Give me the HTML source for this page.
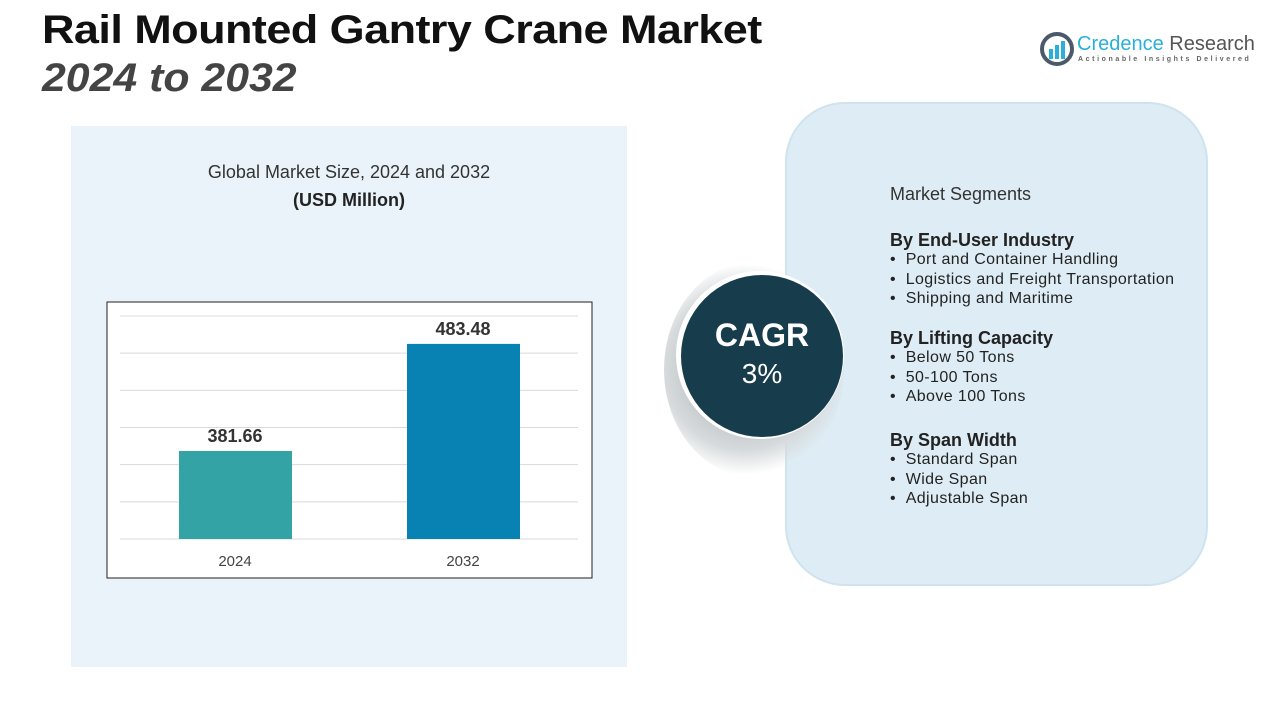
<!DOCTYPE html>
<html><head><meta charset="utf-8"><style>
body{margin:0;width:1280px;height:720px;background:#fff;font-family:"Liberation Sans",sans-serif;position:relative;overflow:hidden}
.abs{position:absolute}
</style></head><body>
<div class="abs" style="left:42px;top:8px;font-size:40px;font-weight:bold;color:#111;letter-spacing:-0.5px;transform:scaleX(1.125);transform-origin:0 0">Rail Mounted Gantry Crane Market</div>
<div class="abs" style="left:42px;top:56px;font-size:40px;font-weight:bold;font-style:italic;color:#444;transform:scaleX(1.07);transform-origin:0 0">2024 to 2032</div>
<div class="abs" style="left:1040px;top:32px;width:215px;height:36px">
 <svg width="34" height="34" style="position:absolute;left:0;top:0"><circle cx="17" cy="17" r="15" fill="none" stroke="#4a5a6a" stroke-width="4"/><rect x="9" y="17" width="4" height="10" fill="#2ab0d8"/><rect x="15" y="13" width="4" height="14" fill="#2ab0d8"/><rect x="21" y="9" width="4" height="18" fill="#2ab0d8"/></svg>
 <div style="position:absolute;left:37px;top:1px;font-size:20px;color:#555"><span style="color:#2ab0d8">Credence</span> Research</div>
 <div style="position:absolute;left:38px;top:24px;font-size:7px;letter-spacing:2.6px;color:#666;font-weight:bold">Actionable Insights Delivered</div>
</div>
<div class="abs" style="left:71px;top:126px;width:556px;height:541px;background:#eaf3f9"></div>
<div class="abs" style="left:71px;top:162px;width:556px;text-align:center;font-size:18px;color:#333">Global Market Size, 2024 and 2032</div>
<div class="abs" style="left:71px;top:190px;width:556px;text-align:center;font-size:18px;font-weight:bold;color:#222">(USD Million)</div>
<svg class="abs" style="left:0;top:0" width="1280" height="720" id="chart">
 <rect x="107" y="302" width="485" height="276" fill="#fff" stroke="#222" stroke-width="1"/>
</svg>
<script>
const categories=["2024","2032"];
const values=[381.66,483.48];
const labels=["381.66","483.48"];
const colors=["#33a3a6","#0881b3"];
const yMin=298,yMax=510;
const svg=document.getElementById('chart');
const NS='http://www.w3.org/2000/svg';
const y0=539,y1=316;
function yScale(v){return y0-(v-yMin)/(yMax-yMin)*(y0-y1);}
for(let i=0;i<7;i++){const l=document.createElementNS(NS,'line');const y=y1+i*(y0-y1)/6;
l.setAttribute('x1',120);l.setAttribute('x2',578);l.setAttribute('y1',y);l.setAttribute('y2',y);l.setAttribute('stroke','#d9d9d9');


svg.appendChild(l);}
const cx=[235,463];
categories.forEach((c,i)=>{
 const r=document.createElementNS(NS,'rect');const t=yScale(values[i]);
 r.setAttribute('x',cx[i]-56);r.setAttribute('width',113);r.setAttribute('y',t);r.setAttribute('height',y0-t);r.setAttribute('fill',colors[i]);
 
 
 svg.appendChild(r);
 const v=document.createElementNS(NS,'text');v.setAttribute('x',cx[i]);v.setAttribute('y',t-9);v.setAttribute('text-anchor','middle');v.setAttribute('font-size','18');v.setAttribute('font-weight','bold');v.setAttribute('fill','#333');v.setAttribute('font-family','Liberation Sans');v.textContent=labels[i];
 
 
 svg.appendChild(v);
 const x=document.createElementNS(NS,'text');x.setAttribute('x',cx[i]);x.setAttribute('y',566);x.setAttribute('text-anchor','middle');x.setAttribute('font-size','15');x.setAttribute('fill','#444');x.setAttribute('font-family','Liberation Sans');x.textContent=c;
 
 
 svg.appendChild(x);
});
</script>
<div class="abs" style="left:785px;top:102px;width:423px;height:484px;border-radius:60px;background:#deedf5;border:2px solid #cfe3ee;box-sizing:border-box"></div>
<div class="abs" style="left:664px;top:262px;width:180px;height:215px;border-radius:50%;background:radial-gradient(circle at 45% 50%,#9aa3a8 0%,#d6dadc 55%,rgba(255,255,255,0) 72%)"></div>
<div class="abs" style="left:676px;top:271px;width:168px;height:168px;border-radius:50%;background:#fff"></div>
<div class="abs" style="left:681px;top:275px;width:162px;height:162px;border-radius:50%;background:#173c4c;color:#fff;text-align:center">
 <div style="margin-top:42px;font-size:32px;font-weight:bold">CAGR</div>
 <div style="font-size:28px;margin-top:4px">3%</div>
</div>
<div class="abs" style="left:890px;top:185px;font-size:16px;color:#222;line-height:19.5px;letter-spacing:0.4px">
 <div style="font-size:18px;color:#333;letter-spacing:0">Market Segments</div>
 <div style="font-weight:bold;font-size:18px;margin-top:26px;letter-spacing:0">By End-User Industry</div>
 <div>•&nbsp;&nbsp;Port and Container Handling</div>
 <div>•&nbsp;&nbsp;Logistics and Freight Transportation</div>
 <div>•&nbsp;&nbsp;Shipping and Maritime</div>
 <div style="font-weight:bold;font-size:18px;margin-top:20px;letter-spacing:0">By Lifting Capacity</div>
 <div>•&nbsp;&nbsp;Below 50 Tons</div>
 <div>•&nbsp;&nbsp;50-100 Tons</div>
 <div>•&nbsp;&nbsp;Above 100 Tons</div>
 <div style="font-weight:bold;font-size:18px;margin-top:24px;letter-spacing:0">By Span Width</div>
 <div>•&nbsp;&nbsp;Standard Span</div>
 <div>•&nbsp;&nbsp;Wide Span</div>
 <div>•&nbsp;&nbsp;Adjustable Span</div>
</div>
</body></html>
